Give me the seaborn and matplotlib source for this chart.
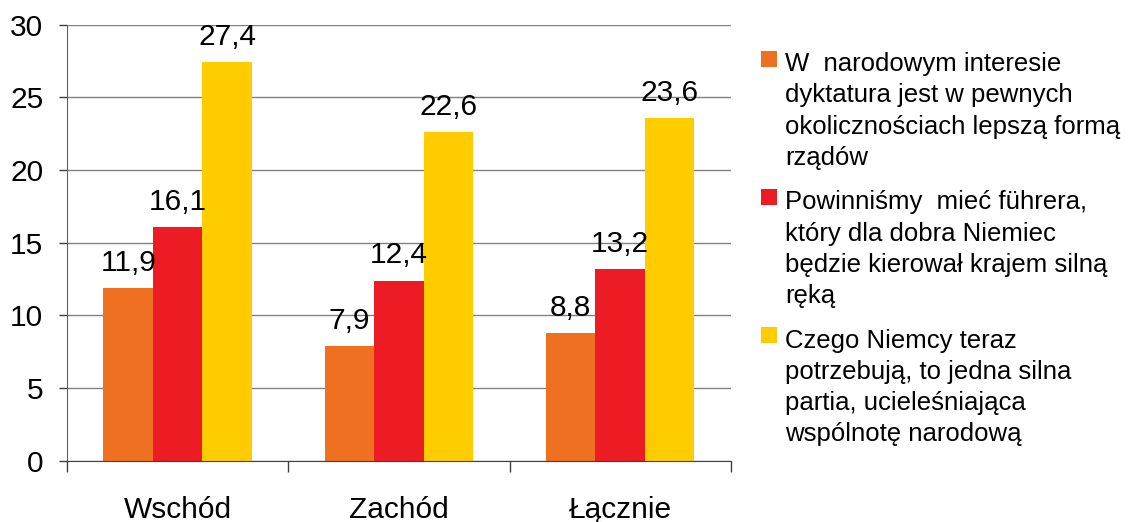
import matplotlib.pyplot as plt
import pandas as pd
import seaborn as sns
from matplotlib.legend_handler import HandlerBase
from matplotlib.patches import Rectangle

# Data
regions = ['Wschód', 'Zachód', 'Łącznie']
statements = [
    'W  narodowym interesie\ndyktatura jest w pewnych\nokolicznościach lepszą formą\nrządów',
    'Powinniśmy  mieć führera,\nktóry dla dobra Niemiec\nbędzie kierował krajem silną\nręką',
    'Czego Niemcy teraz\npotrzebują, to jedna silna\npartia, ucieleśniająca\nwspólnotę narodową',
]
dictatorship = [11.9, 7.9, 8.8]
fuehrer = [16.1, 12.4, 13.2]
one_party = [27.4, 22.6, 23.6]
colors = ['#F07022', '#ED1C24', '#FFCC00']

df = pd.DataFrame({
    'region': regions * 3,
    'statement': [statements[0]] * 3 + [statements[1]] * 3 + [statements[2]] * 3,
    'value': dictatorship + fuehrer + one_party,
})

sns.set_style('white')
plt.rcParams['font.family'] = ['Liberation Sans', 'DejaVu Sans']
plt.rcParams['text.color'] = 'black'
plt.rcParams['xtick.color'] = 'black'
plt.rcParams['ytick.color'] = 'black'

fig = plt.figure(figsize=(11.31, 5.22), dpi=100)
ax = fig.add_axes([0.0592, 0.1169, 0.587, 0.8361])

sns.barplot(data=df, x='region', y='value', hue='statement', hue_order=statements,
            palette=colors, width=0.67, gap=0, saturation=1, linewidth=0,
            ax=ax, legend=False)

for cont in ax.containers:
    ax.bar_label(cont, labels=[f'{b.get_height():.1f}'.replace('.', ',') for b in cont],
                 padding=8, fontsize=21.5, color='black')

ax.set_ylim(0, 30)
ax.set_xlim(-0.5, 2.5)
ax.set_yticks(range(0, 31, 5))
ax.yaxis.grid(True, color='#808080', lw=1)
ax.set_axisbelow(True)
ax.set_xlabel('')
ax.set_ylabel('')

ax.set_xticks([-0.5, 0.5, 1.5, 2.5], minor=True)
ax.tick_params(axis='x', which='major', length=0, pad=25, labelsize=21.5, labelcolor='black')
ax.tick_params(axis='x', which='minor', length=8, width=1, color='#404040', direction='out', bottom=True)
ax.tick_params(axis='y', length=6, width=1, color='#404040', pad=11, labelsize=21.5,
               labelcolor='black', left=True)

for side in ['top', 'right']:
    ax.spines[side].set_visible(False)
ax.spines['left'].set_color('#606060')
ax.spines['bottom'].set_color('#404040')


class TopSquare(HandlerBase):
    # square aligned with the first line of a 4-line label
    def create_artists(self, legend, orig_handle, xdescent, ydescent, width, height, fontsize, trans):
        size = 0.62 * fontsize
        cy = -ydescent + height / 2 + 2.05 * fontsize
        r = Rectangle((-xdescent, cy - size / 2), size, size,
                      facecolor=orig_handle.get_facecolor(), edgecolor='none', transform=trans)
        return [r]


handles = [Rectangle((0, 0), 1, 1, facecolor=c) for c in colors]
leg = fig.legend(handles, statements, loc='upper left', bbox_to_anchor=(0.673, 0.9),
                 frameon=False, fontsize=18.5, handler_map={Rectangle: TopSquare()},
                 handlelength=0.62, handleheight=0.62, handletextpad=0.3,
                 labelspacing=0.8, borderpad=0, borderaxespad=0)
for t in leg.get_texts():
    t.set_linespacing(1.38)
    t.set_color('black')

fig.savefig('out.png', dpi=100)
